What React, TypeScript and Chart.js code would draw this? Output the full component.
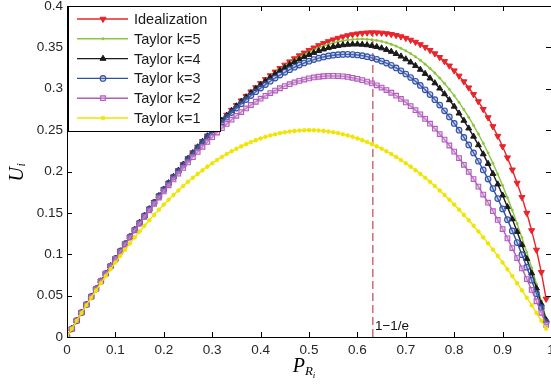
import React, { useEffect, useRef } from 'react';
import { Chart, registerables } from 'chart.js';
import { drawPoint } from 'chart.js/helpers';

Chart.register(...registerables);

// ---------------- data ----------------
const P_R = [
  0, 0.01, 0.02, 0.03, 0.04, 0.05, 0.06, 0.07, 0.08, 0.09,
  0.1, 0.11, 0.12, 0.13, 0.14, 0.15, 0.16, 0.17, 0.18, 0.19,
  0.2, 0.21, 0.22, 0.23, 0.24, 0.25, 0.26, 0.27, 0.28, 0.29,
  0.3, 0.31, 0.32, 0.33, 0.34, 0.35, 0.36, 0.37, 0.38, 0.39,
  0.4, 0.41, 0.42, 0.43, 0.44, 0.45, 0.46, 0.47, 0.48, 0.49,
  0.5, 0.51, 0.52, 0.53, 0.54, 0.55, 0.56, 0.57, 0.58, 0.59,
  0.6, 0.61, 0.62, 0.63, 0.64, 0.65, 0.66, 0.67, 0.68, 0.69,
  0.7, 0.71, 0.72, 0.73, 0.74, 0.75, 0.76, 0.77, 0.78, 0.79,
  0.8, 0.81, 0.82, 0.83, 0.84, 0.85, 0.86, 0.87, 0.88, 0.89,
  0.9, 0.91, 0.92, 0.93, 0.94, 0.95, 0.96, 0.97, 0.98, 0.99,
];

const IDEALIZATION = [
  0, .00995, .0198, .02955, .03919, .04873, .05816, .06749, .07671, .08582,
  .09482, .10372, .11249, .12116, .12971, .13814, .14646, .15465, .16273, .17068,
  .17852, .18622, .1938, .20125, .20857, .21576, .22282, .22974, .23652, .24317,
  .24967, .25603, .26225, .26832, .27424, .28001, .28562, .29108, .29638, .30152,
  .3065, .3113, .31594, .32041, .3247, .32881, .33274, .33649, .34004, .34341,
  .34657, .34954, .3523, .35486, .3572, .35933, .36123, .36291, .36435, .36556,
  .36652, .36723, .36768, .36787, .36779, .36744, .3668, .36586, .36462, .36307,
  .36119, .35898, .35643, .35352, .35024, .34657, .34251, .33803, .33311, .32774,
  .32189, .31554, .30866, .30123, .29321, .28457, .27526, .26523, .25443, .2428,
  .23026, .21672, .20206, .18615, .1688, .14979, .12876, .1052, .07824, .04605,
];

const TAYLOR_K5 = [
  0, .00995, .0198, .02955, .03919, .04873, .05816, .06749, .07671, .08582,
  .09482, .10371, .11249, .12116, .12971, .13814, .14646, .15465, .16272, .17068,
  .1785, .18621, .19378, .20123, .20854, .21572, .22277, .22968, .23645, .24308,
  .24956, .2559, .26208, .26812, .274, .27972, .28529, .29068, .29592, .30098,
  .30587, .31058, .31511, .31945, .3236, .32756, .33132, .33488, .33823, .34136,
  .34427, .34696, .34942, .35164, .35361, .35534, .35682, .35802, .35895, .35961,
  .35998, .36006, .35982, .35928, .35842, .35722, .35568, .35379, .35153, .3489,
  .34589, .34249, .33866, .33442, .32974, .32461, .31902, .31295, .30638, .29931,
  .29172, .28358, .27489, .26562, .25576, .24528, .23417, .22241, .20998, .19685,
  .18301, .16844, .1531, .13697, .12004, .10227, .08365, .06413, .04371, .02234,
];

const TAYLOR_K4 = [
  0, .00995, .0198, .02955, .03919, .04873, .05816, .06749, .07671, .08582,
  .09482, .10371, .11249, .12115, .1297, .13813, .14644, .15462, .16269, .17064,
  .17845, .18614, .1937, .20113, .20842, .21558, .22259, .22947, .2362, .24279,
  .24922, .2555, .26163, .2676, .2734, .27904, .28451, .28981, .29494, .29988,
  .30464, .30921, .31359, .31778, .32176, .32553, .3291, .33245, .33558, .33848,
  .34115, .34358, .34577, .34771, .34939, .35081, .35197, .35284, .35344, .35375,
  .35376, .35347, .35286, .35194, .35069, .3491, .34716, .34488, .34223, .33921,
  .33581, .33202, .32783, .32322, .3182, .31274, .30685, .3005, .29368, .28639,
  .27861, .27033, .26155, .25223, .24237, .23197, .221, .20945, .19731, .18457,
  .1712, .1572, .14255, .12723, .11123, .09453, .07712, .05898, .04009, .02044,
];

const TAYLOR_K3 = [
  0, .00995, .0198, .02955, .03919, .04873, .05816, .06749, .0767, .08581,
  .0948, .10368, .11244, .12109, .12962, .13802, .1463, .15445, .16248, .17037,
  .17813, .18576, .19325, .20059, .20779, .21484, .22175, .2285, .23509, .24153,
  .2478, .25391, .25984, .26561, .27119, .2766, .28183, .28686, .2917, .29635,
  .3008, .30504, .30908, .3129, .31651, .31989, .32305, .32598, .32867, .33113,
  .33333, .33529, .33699, .33844, .33961, .34052, .34115, .3415, .34156, .34133,
  .3408, .33997, .33882, .33737, .33559, .33348, .33104, .32825, .32512, .32164,
  .3178, .3136, .30901, .30405, .29871, .29297, .28683, .28029, .27332, .26594,
  .25813, .24989, .2412, .23206, .22246, .21239, .20185, .19083, .17932, .16731,
  .1548, .14177, .12822, .11414, .09952, .08435, .06863, .05234, .03548, .01803,
];

const TAYLOR_K2 = [
  0, .00995, .0198, .02954, .03917, .04869, .05809, .06738, .07654, .08559,
  .0945, .10328, .11194, .12045, .12883, .13706, .14515, .15309, .16088, .16852,
  .176, .18332, .19048, .19747, .20429, .21094, .21741, .22371, .22982, .23576,
  .2415, .24706, .25242, .25758, .26255, .26731, .27187, .27622, .28036, .28429,
  .288, .29149, .29476, .2978, .30061, .30319, .30553, .30764, .3095, .31113,
  .3125, .31362, .3145, .31511, .31547, .31556, .31539, .31495, .31424, .31326,
  .312, .31046, .30864, .30653, .30413, .30144, .29845, .29517, .29158, .2877,
  .2835, .279, .27418, .26904, .26359, .25781, .25171, .24528, .23852, .23143,
  .224, .21623, .20812, .19966, .19085, .18169, .17217, .1623, .15206, .14147,
  .1305, .11917, .10746, .09537, .08291, .07006, .05683, .04321, .0292, .0148,
];

const TAYLOR_K1 = [
  0, .0099, .0196, .0291, .0384, .0475, .0564, .0651, .0736, .0819,
  .09, .0979, .1056, .1131, .1204, .1275, .1344, .1411, .1476, .1539,
  .16, .1659, .1716, .1771, .1824, .1875, .1924, .1971, .2016, .2059,
  .21, .2139, .2176, .2211, .2244, .2275, .2304, .2331, .2356, .2379,
  .24, .2419, .2436, .2451, .2464, .2475, .2484, .2491, .2496, .2499,
  .25, .2499, .2496, .2491, .2484, .2475, .2464, .2451, .2436, .2419,
  .24, .2379, .2356, .2331, .2304, .2275, .2244, .2211, .2176, .2139,
  .21, .2059, .2016, .1971, .1924, .1875, .1824, .1771, .1716, .1659,
  .16, .1539, .1476, .1411, .1344, .1275, .1204, .1131, .1056, .0979,
  .09, .0819, .0736, .0651, .0564, .0475, .0384, .0291, .0196, .0099,
];

const SERIES_LABELS = ['Idealization', 'Taylor k=5', 'Taylor k=4', 'Taylor k=3', 'Taylor k=2', 'Taylor k=1'];
const SERIES_VALUES = [IDEALIZATION, TAYLOR_K5, TAYLOR_K4, TAYLOR_K3, TAYLOR_K2, TAYLOR_K1];

const X_TICKS = [0, 0.1, 0.2, 0.3, 0.4, 0.5, 0.6, 0.7, 0.8, 0.9, 1];
const Y_TICKS = [0, 0.05, 0.1, 0.15, 0.2, 0.25, 0.3, 0.35, 0.4];

const MARK_X = 0.632;
const MARK_TOP = 0.368;
const MARK_LABEL = '1\u22121/e';

// ---------------- styles ----------------
const STYLES = [
  { color: '#e8252b', bg: '#e8252b', pointStyle: 'triangle', rotation: 180, radius: 3.5, bw: 1 },
  { color: '#8cc63f', bg: '#8cc63f', pointStyle: 'circle', rotation: 0, radius: 1.2, bw: 0.5 },
  { color: '#1a1a1a', bg: '#1a1a1a', pointStyle: 'triangle', rotation: 0, radius: 3.4, bw: 1 },
  { color: '#2f4fa6', bg: 'rgba(120,140,200,0.35)', pointStyle: 'circle', rotation: 0, radius: 2.8, bw: 1.1 },
  { color: '#b25cbc', bg: 'rgba(215,170,220,0.45)', pointStyle: 'rect', rotation: 0, radius: 3.3, bw: 1.1 },
  { color: '#f0e400', bg: '#f0e400', pointStyle: 'star', rotation: 0, radius: 2.3, bw: 1.1 },
];

const TICK_FONT = "'Liberation Sans', Arial, sans-serif";
const SERIF = "'Liberation Serif', 'Times New Roman', serif";

const decorPlugin = {
  id: 'decor',
  afterDatasetsDraw(chart: any) {
    const { ctx, chartArea: a, scales } = chart;
    const xs = scales.x;
    const ys = scales.y;
    ctx.save();
    // frame
    ctx.strokeStyle = '#000';
    ctx.lineWidth = 1;
    ctx.strokeRect(a.left + 0.5, a.top + 0.5, a.right - a.left, a.bottom - a.top);
    // inward ticks
    ctx.beginPath();
    X_TICKS.forEach((v) => {
      const px = Math.round(xs.getPixelForValue(v)) + 0.5;
      ctx.moveTo(px, a.bottom);
      ctx.lineTo(px, a.bottom - 5);
      ctx.moveTo(px, a.top);
      ctx.lineTo(px, a.top + 5);
    });
    Y_TICKS.forEach((v) => {
      const py = Math.round(ys.getPixelForValue(v)) + 0.5;
      ctx.moveTo(a.left, py);
      ctx.lineTo(a.left + 5, py);
      ctx.moveTo(a.right, py);
      ctx.lineTo(a.right - 5, py);
    });
    ctx.stroke();

    // marker label
    ctx.fillStyle = '#111';
    ctx.font = `13.5px ${TICK_FONT}`;
    ctx.textBaseline = 'middle';
    ctx.textAlign = 'left';
    ctx.fillText(MARK_LABEL, xs.getPixelForValue(MARK_X) + 2, a.bottom - 11);

    // legend
    const lx = a.left + 1;
    const ly = a.top;
    const lw = 152;
    const lh = 125;
    ctx.fillStyle = '#fff';
    ctx.fillRect(lx + 0.5, ly + 0.5, lw, lh);
    ctx.strokeStyle = '#000';
    ctx.lineWidth = 1;
    ctx.strokeRect(lx + 0.5, ly + 0.5, lw, lh);
    SERIES_LABELS.forEach((label, i) => {
      const s = STYLES[i];
      const cy = ly + 13 + i * 19.8;
      ctx.strokeStyle = s.color;
      ctx.lineWidth = 1.4;
      ctx.beginPath();
      ctx.moveTo(lx + 9, cy);
      ctx.lineTo(lx + 60, cy);
      ctx.stroke();
      ctx.fillStyle = s.bg;
      ctx.strokeStyle = s.color;
      ctx.lineWidth = s.bw;
      drawPoint(ctx, { pointStyle: s.pointStyle, rotation: s.rotation, radius: s.radius, borderWidth: s.bw } as any, lx + 35, cy);
      ctx.fillStyle = '#1a1a1a';
      ctx.font = `14.5px ${TICK_FONT}`;
      ctx.textBaseline = 'middle';
      ctx.textAlign = 'left';
      ctx.fillText(label, lx + 66, cy + 1);
    });

    // y axis title (rotated) U_i
    ctx.fillStyle = '#000';
    ctx.save();
    ctx.translate(23, (a.top + a.bottom) / 2 + 1);
    ctx.rotate(-Math.PI / 2);
    ctx.textBaseline = 'alphabetic';
    ctx.font = `italic 20px ${SERIF}`;
    const wU = ctx.measureText('U').width;
    ctx.font = `italic 12px ${SERIF}`;
    const wi = ctx.measureText('i').width;
    const start = -(wU + wi) / 2;
    ctx.font = `italic 20px ${SERIF}`;
    ctx.fillText('U', start, 0);
    ctx.font = `italic 12px ${SERIF}`;
    ctx.fillText('i', start + wU + 0.5, 2);
    ctx.restore();

    // x axis title P_{R_i}
    ctx.save();
    ctx.textBaseline = 'alphabetic';
    ctx.font = `italic 20px ${SERIF}`;
    const wP = ctx.measureText('P').width;
    ctx.font = `italic 13px ${SERIF}`;
    const wR = ctx.measureText('R').width;
    ctx.font = `italic 9px ${SERIF}`;
    const wi2 = ctx.measureText('i').width;
    const cx = (a.left + a.right) / 2 - 5;
    const x0 = cx - (wP + wR + wi2) / 2;
    ctx.font = `italic 20px ${SERIF}`;
    ctx.fillText('P', x0, 372);
    ctx.font = `italic 13px ${SERIF}`;
    ctx.fillText('R', x0 + wP, 375);
    ctx.font = `italic 9px ${SERIF}`;
    ctx.fillText('i', x0 + wP + wR, 378);
    ctx.restore();

    ctx.restore();
  },
};

export default function App() {
  const ref = useRef<HTMLCanvasElement | null>(null);

  useEffect(() => {
    if (!ref.current) return;
    const datasets: any[] = SERIES_VALUES.map((vals, i) => {
      const s = STYLES[i];
      return {
        label: SERIES_LABELS[i],
        data: vals.map((v, j) => ({ x: P_R[j], y: v })),
        showLine: true,
        borderColor: s.color,
        backgroundColor: s.bg,
        borderWidth: 1.4,
        pointStyle: s.pointStyle,
        rotation: s.rotation,
        pointRadius: s.radius,
        pointBorderWidth: s.bw,
        pointBorderColor: s.color,
        pointBackgroundColor: s.bg,
        tension: 0,
        order: 6 - i,
      };
    });
    datasets.push({
      label: 'marker',
      data: [{ x: MARK_X, y: 0 }, { x: MARK_X, y: MARK_TOP }],
      showLine: true,
      borderColor: '#b0223a',
      borderWidth: 1,
      borderDash: [8, 4],
      pointRadius: 0,
      order: 10,
    });

    const chart = new Chart(ref.current, {
      type: 'scatter',
      data: { datasets },
      options: {
        animation: false,
        responsive: false,
        devicePixelRatio: 1,
        layout: { padding: { top: 6, right: 49, left: 0, bottom: 0 } },
        plugins: { legend: { display: false }, tooltip: { enabled: false } },
        scales: {
          x: {
            type: 'linear',
            min: 0,
            max: 1,
            grid: { display: false, drawTicks: false },
            border: { display: false },
            ticks: {
              padding: 5,
              color: '#262626',
              font: { family: TICK_FONT, size: 13.5 },
              maxRotation: 0,
              autoSkip: false,
              callback: (v: any) => String(v),
            },
            afterBuildTicks: (scale: any) => {
              scale.ticks = X_TICKS.map((v) => ({ value: v }));
            },
            afterFit: (scale: any) => {
              scale.height = 49;
              scale.paddingLeft = 0;
              scale.paddingRight = 0;
            },
          },
          y: {
            type: 'linear',
            min: 0,
            max: 0.4,
            grid: { display: false, drawTicks: false },
            border: { display: false },
            ticks: {
              padding: 4,
              color: '#262626',
              font: { family: TICK_FONT, size: 13.5 },
              autoSkip: false,
              callback: (v: any) => String(v),
            },
            afterBuildTicks: (scale: any) => {
              scale.ticks = Y_TICKS.map((v) => ({ value: v }));
            },
            afterFit: (scale: any) => {
              scale.width = 67;
              scale.paddingTop = 0;
              scale.paddingBottom = 0;
            },
          },
        },
      },
      plugins: [decorPlugin],
    });
    return () => chart.destroy();
  }, []);

  return (
    <div
      style={{
        position: 'fixed',
        left: 0,
        top: 0,
        width: 551,
        height: 386,
        overflow: 'hidden',
        background: '#fff',
      }}
    >
      <canvas ref={ref} width={600} height={386} style={{ display: 'block' }} />
    </div>
  );
}
